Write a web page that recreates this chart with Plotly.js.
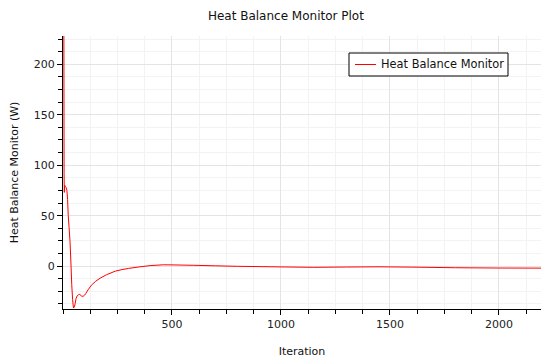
<!DOCTYPE html>
<html>
<head>
<meta charset="utf-8">
<script src="https://cdn.plot.ly/plotly-3.0.1.min.js"></script>
<style>html,body{margin:0;padding:0;background:#fff;}#chart{width:553px;height:359px;}</style>
</head>
<body>
<div id="chart"></div>
<script>
const iterations = [4, 5, 6, 8, 11, 14, 18, 21, 24, 28, 32, 36, 40, 44, 48, 52, 56, 60, 65, 70, 77, 84, 92, 98, 105, 115, 130, 150, 170, 200, 240, 270, 300, 350, 400, 460, 500, 600, 700, 800, 1000, 1150, 1300, 1450, 1600, 1800, 2000, 2193];
const heatBalance = [235, 92, 73, 80, 79, 78, 75, 66, 50, 38, 25, 5, -18, -33, -41.5, -40.5, -37, -32, -29.5, -28.5, -28, -29.5, -30, -29, -27, -23.5, -19, -15, -12, -8.5, -5, -3.5, -2.3, -0.8, 0.5, 1.3, 1.2, 0.8, 0.3, -0.2, -0.8, -1.2, -0.9, -0.7, -1.0, -1.6, -1.9, -2.0];
const seriesName = 'Heat Balance Monitor';

const font = 'DejaVu Sans, Verdana, sans-serif';
Plotly.newPlot('chart', [{
  x: iterations, y: heatBalance, type: 'scatter', mode: 'lines',
  name: seriesName, showlegend: false, cliponaxis: true,
  line: {color: '#ff0000', width: 1, shape: 'linear', simplify: false}
}], {
  width: 553, height: 359,
  margin: {l: 63, r: 12, t: 36, b: 50},
  paper_bgcolor: '#fff', plot_bgcolor: '#fff',
  font: {family: font, size: 11, color: '#222'},
  title: {text: 'Heat Balance Monitor Plot', font: {family: font, size: 12, color: '#111'}, x: 0.517, xref: 'container', xanchor: 'center', y: 0.957, yref: 'container', yanchor: 'middle'},
  showlegend: false,
  shapes: [
    {type: 'rect', xref: 'paper', yref: 'paper', x0: (349-63)/478, x1: (508-63)/478, y0: (309-76)/273, y1: (309-53)/273, line: {color: '#000', width: 1}, fillcolor: '#fff', layer: 'above'},
    {type: 'line', xref: 'paper', yref: 'paper', x0: (355-63)/478, x1: (376-63)/478, y0: (309-64.5)/273, y1: (309-64.5)/273, line: {color: '#ff0000', width: 1}, layer: 'above'}
  ],
  annotations: [
    {text: seriesName, xref: 'paper', yref: 'paper', x: (379-63)/478, y: (309-64.5)/273, xanchor: 'left', yanchor: 'middle', showarrow: false, font: {family: font, size: 11.4, color: '#111'}}
  ],
  xaxis: {
    range: [0, 2193], tickvals: [500, 1000, 1500, 2000], ticktext: ['500','1000','1500','2000'],
    showline: true, linecolor: '#000', linewidth: 1, ticks: 'outside', ticklen: 5, tickcolor: '#000',
    showgrid: true, gridcolor: '#e4e4e4', gridwidth: 1, zeroline: false,
    minor: {dtick: 125, tick0: 0, ticks: 'outside', ticklen: 4, tickcolor: '#000', showgrid: true, gridcolor: '#f3f3f3'},
    title: {text: 'Iteration', font: {family: font, size: 11, color: '#111'}, standoff: 17},
    tickfont: {family: font, size: 11, color: '#222'}
  },
  yaxis: {
    range: [-42.5, 228], tickvals: [0, 50, 100, 150, 200], ticktext: ['0','50','100','150','200'],
    showline: true, linecolor: '#000', linewidth: 1, ticks: 'outside', ticklen: 5, tickcolor: '#000',
    showgrid: true, gridcolor: '#e4e4e4', gridwidth: 1, zeroline: false,
    minor: {dtick: 12.5, tick0: 0, ticks: 'outside', ticklen: 4, tickcolor: '#000', showgrid: true, gridcolor: '#f3f3f3'},
    title: {text: 'Heat Balance Monitor (W)', font: {family: font, size: 11, color: '#111'}, standoff: 12},
    tickfont: {family: font, size: 11, color: '#222'}
  }
}, {displayModeBar: false, staticPlot: true});
</script>
</body>
</html>
